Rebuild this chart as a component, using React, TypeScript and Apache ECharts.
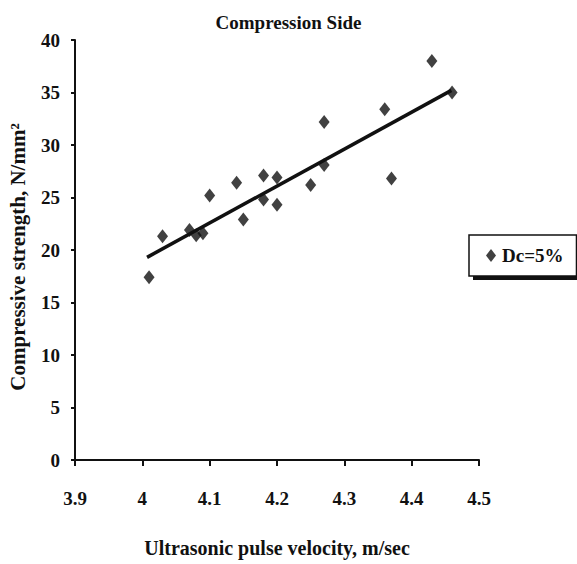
import React, { useEffect, useRef } from "react";
import * as echarts from "echarts";

const velocity = [4.01, 4.03, 4.07, 4.08, 4.09, 4.1, 4.14, 4.15, 4.18, 4.18, 4.2, 4.2, 4.25, 4.27, 4.27, 4.36, 4.37, 4.43, 4.46];
const strength = [17.4, 21.3, 21.9, 21.4, 21.6, 25.2, 26.4, 22.9, 27.1, 24.8, 26.9, 24.3, 26.2, 32.2, 28.1, 33.4, 26.8, 38.0, 35.0];
const trendX = [4.007, 4.459];
const trendY = [19.3, 35.2];
const seriesName = "Dc=5%";
const yTitle = "Compressive strength, N/mm²";

const FONT = "'Liberation Serif', 'Times New Roman', serif";

export default function App() {
  const ref = useRef<HTMLDivElement>(null);
  useEffect(() => {
    if (!ref.current) return;
    const chart = echarts.init(ref.current, undefined, { renderer: "svg" });
    const pts = velocity.map((v, i) => [v, strength[i]]);
    const trend = trendX.map((v, i) => [v, trendY[i]]);
    chart.setOption({
      animation: false,
      backgroundColor: "#ffffff",
      textStyle: { fontFamily: FONT, color: "#111" },
      title: {
        text: "Compression Side",
        left: "center",
        top: 8,
        textStyle: { fontFamily: FONT, fontSize: 19, fontWeight: "bold", color: "#111" },
      },
      grid: { left: 75, right: 98, top: 40, bottom: 104, containLabel: false },
      graphic: [
        { type: "rect", left: 473, top: 239, shape: { width: 104, height: 41 }, style: { fill: "#111" }, z: 1 },
        {
          type: "text",
          x: 18,
          y: 257,
          rotation: Math.PI / 2,
          style: {
            text: yTitle,
            fontFamily: FONT,
            fontSize: 21,
            fontWeight: "bold",
            fill: "#111",
            align: "center",
            verticalAlign: "middle",
          },
        },
      ],
      legend: {
        data: [seriesName],
        left: 469,
        top: 235,
        orient: "vertical",
        padding: [11, 13, 11, 17],
        itemWidth: 10,
        itemHeight: 13,
        itemGap: 0,
        backgroundColor: "#ffffff",
        borderColor: "#111",
        borderWidth: 1.5,
        borderRadius: 0,
        z: 5,
        textStyle: { fontFamily: FONT, fontSize: 19, fontWeight: "bold", color: "#111", padding: [0, 0, 0, 1] },
      },
      xAxis: {
        type: "value",
        min: 3.9,
        max: 4.5,
        interval: 0.1,
        name: "Ultrasonic pulse velocity, m/sec",
        nameLocation: "middle",
        nameGap: 78,
        nameTextStyle: { fontFamily: FONT, fontSize: 20, fontWeight: "bold", color: "#111" },
        axisLine: { show: true, onZero: false, lineStyle: { color: "#111", width: 2 } },
        axisTick: { show: true, inside: false, length: 6, lineStyle: { color: "#111", width: 2 } },
        axisLabel: { margin: 29, fontFamily: FONT, fontSize: 19, fontWeight: "bold", color: "#111" },
        splitLine: { show: false },
      },
      yAxis: {
        type: "value",
        min: 0,
        max: 40,
        interval: 5,
        axisLine: { show: true, lineStyle: { color: "#111", width: 2 } },
        axisTick: { show: true, inside: false, length: 4, lineStyle: { color: "#111", width: 2 } },
        axisLabel: { margin: 15, fontFamily: FONT, fontSize: 19, fontWeight: "bold", color: "#111" },
        splitLine: { show: false },
      },
      series: [
        {
          name: seriesName,
          type: "scatter",
          data: pts,
          symbol: "diamond",
          symbolSize: [11, 14],
          itemStyle: { color: "#111" },
          z: 3,
        },
        {
          name: "trend",
          type: "line",
          data: trend,
          showSymbol: false,
          symbol: "none",
          lineStyle: { color: "#111", width: 3.5 },
          z: 2,
        },
      ],
    });
    return () => chart.dispose();
  }, []);
  return <div ref={ref} style={{ width: 577, height: 564, position: "absolute", left: 0, top: 0 }} />;
}
